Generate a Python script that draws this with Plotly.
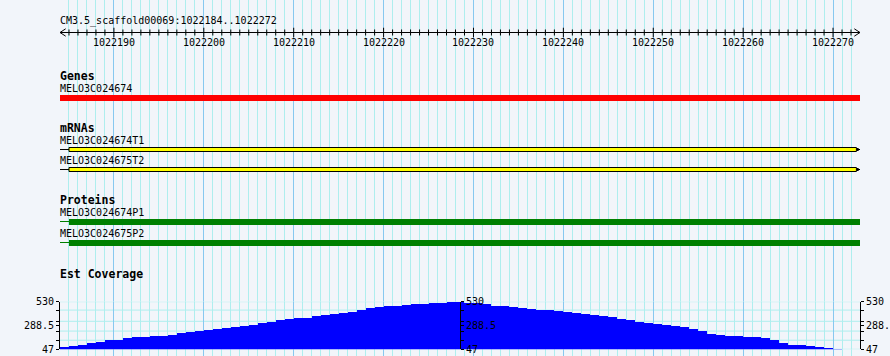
import plotly.graph_objects as go

# ---------------- data ----------------
scaffold = "CM3.5_scaffold00069"
view_start = 1022184
view_end = 1022273          # right edge of the last base shown (1022272)
ruler_ticks = [1022190, 1022200, 1022210, 1022220, 1022230,
               1022240, 1022250, 1022260, 1022270]
ruler_labels = [str(t) for t in ruler_ticks]

gene_names = ["MELO3C024674"]
gene_starts = [1022150]
gene_ends = [1022300]

mrna_names = ["MELO3C024674T1", "MELO3C024675T2"]
mrna_starts = [1022150, 1022150]
mrna_exon_starts = [1022185, 1022185]
mrna_exon_ends = [1022272.6, 1022272.6]
mrna_ends = [1022300, 1022300]

protein_names = ["MELO3C024674P1", "MELO3C024675P2"]
protein_starts = [1022150, 1022150]
protein_cds_starts = [1022185, 1022185]
protein_cds_ends = [1022300, 1022300]

cov_start = 1022184
cov_values = [74, 83, 93, 110, 120, 143, 143, 160, 170, 170,
              180, 189, 199, 213, 223, 233, 249, 259, 269, 276,
              289, 299, 312, 329, 348, 358, 366, 370, 390, 400,
              410, 423, 433, 446, 468, 478, 490, 490, 498, 505,
              514, 520, 522, 530, 530, 520, 518, 505, 494, 485,
              478, 468, 460, 452, 444, 436, 426, 417, 408, 395,
              385, 373, 353, 343, 331, 321, 311, 301, 291, 281,
              256, 233, 203, 195, 190, 185, 171, 170, 160, 140,
              110, 90, 90, 80, 70, 60, 54]
cov_min, cov_mid, cov_max = 47, 288.5, 530
cov_grid = [530, 445, 331, 232, 139, 47]
cov_minor = [445, 331, 232, 139]

# ---------------- style / layout ----------------
W, H = 890, 356
BG = "#F2F5FA"
MINOR_GRID = "#AEEEEE"
MAJOR_GRID = "#87C8F0"
MONO = "DejaVu Sans Mono"
L_PX, R_PX = 60, 860
px_per_base = (R_PX - L_PX) / (view_end - view_start)


def clamp(v):
    return max(view_start, min(view_end, v))


fig = go.Figure()
shapes = []
annotations = []


def label(text, y, size=10, bold=False):
    annotations.append(dict(
        x=view_start, y=y, xref="x", yref="y", xanchor="left", yanchor="middle",
        text=f"<b>{text}</b>" if bold else text, showarrow=False, xshift=-2,
        font=dict(family=MONO, size=size, color="black")))


# ruler
RULER_Y = 32.5
fig.add_trace(go.Scatter(x=[view_start, view_end], y=[RULER_Y, RULER_Y], mode="lines",
                         line=dict(color="black", width=1), hoverinfo="skip", showlegend=False))
minor_pos = [b for b in range(view_start + 1, view_end) if b not in ruler_ticks]
fig.add_trace(go.Scatter(x=minor_pos, y=[RULER_Y] * len(minor_pos), mode="markers",
                         marker=dict(symbol="line-ns", size=4.3, line=dict(color="black", width=1)),
                         hoverinfo="skip", showlegend=False))
fig.add_trace(go.Scatter(x=ruler_ticks, y=[RULER_Y] * len(ruler_ticks), mode="markers",
                         marker=dict(symbol="line-ns", size=6.8, line=dict(color="black", width=1)),
                         hoverinfo="skip", showlegend=False))
aw = 5.7 / px_per_base
for xe, d in ((view_start, 1), (view_end, -1)):
    fig.add_trace(go.Scatter(x=[xe + d * aw, xe, xe + d * aw], y=[RULER_Y - 3.7, RULER_Y, RULER_Y + 3.7],
                             mode="lines", line=dict(color="black", width=1),
                             hoverinfo="skip", showlegend=False))
for t, s in zip(ruler_ticks, ruler_labels):
    annotations.append(dict(x=t, y=42.3, xref="x", yref="y", text=s, showarrow=False,
                            xanchor="center", yanchor="middle",
                            font=dict(family=MONO, size=10, color="black")))
label(f"{scaffold}:{view_start}..{view_end - 1}", 21)

# genes
label("Genes", 76, size=11.5, bold=True)
for i, (n, s, e) in enumerate(zip(gene_names, gene_starts, gene_ends)):
    label(n, 88)
    shapes.append(dict(type="rect", xref="x", yref="y", x0=clamp(s), x1=clamp(e), y0=95, y1=101,
                       fillcolor="#FF0000", line=dict(width=0)))

# mRNAs
label("mRNAs", 128.3, size=11.5, bold=True)
mrna_rows = [(140.3, 147.5), (160.0, 167.5)]
for (ly, top), n, s, es, ee, e in zip(mrna_rows, mrna_names, mrna_starts,
                                      mrna_exon_starts, mrna_exon_ends, mrna_ends):
    label(n, ly)
    mid = top + 2
    shapes.append(dict(type="line", xref="x", yref="y", x0=clamp(s), x1=clamp(es), y0=mid, y1=mid,
                       line=dict(color="black", width=1)))
    shapes.append(dict(type="line", xref="x", yref="y", x0=clamp(ee), x1=clamp(e), y0=mid, y1=mid,
                       line=dict(color="black", width=1)))
    shapes.append(dict(type="rect", xref="x", yref="y", x0=clamp(ee), x1=clamp(ee + 0.25),
                       y0=top + 0.5, y1=top + 3.5, fillcolor="black", line=dict(width=0)))
    shapes.append(dict(type="rect", xref="x", yref="y", x0=clamp(es), x1=clamp(ee), y0=top, y1=top + 4,
                       fillcolor="#FFFF00", line=dict(color="black", width=1)))

# proteins
label("Proteins", 200, size=11.5, bold=True)
prot_rows = [(212.7, 219), (233.3, 240)]
for (ly, top), n, s, cs, ce in zip(prot_rows, protein_names, protein_starts,
                                   protein_cds_starts, protein_cds_ends):
    label(n, ly)
    shapes.append(dict(type="line", xref="x", yref="y", x0=clamp(s), x1=clamp(cs), y0=top + 2.5,
                       y1=top + 2.5, line=dict(color="#008000", width=1)))
    shapes.append(dict(type="rect", xref="x", yref="y", x0=clamp(cs), x1=clamp(ce), y0=top, y1=top + 6,
                       fillcolor="#008000", line=dict(width=0)))

# coverage
label("Est Coverage", 274, size=11.5, bold=True)
for g in cov_grid:
    shapes.append(dict(type="line", xref="x", yref="y2", x0=view_start, x1=view_end, y0=g, y1=g,
                       layer="below", line=dict(color=MINOR_GRID, width=1)))
cov_x = [cov_start + i + 0.5 for i in range(len(cov_values))]
fig.add_trace(go.Bar(x=cov_x, y=cov_values, width=1, yaxis="y2",
                     marker=dict(color="#0000FF", line=dict(width=0)),
                     hoverinfo="skip", showlegend=False))
for ax in ("y3", "y4"):
    fig.add_trace(go.Scatter(x=[None], y=[None], yaxis=ax, mode="markers",
                             hoverinfo="skip", showlegend=False))

y_top_px, y_bot_px = 301.7, 349.3
dom = [1 - y_bot_px / H, 1 - y_top_px / H]
cov_axis = dict(range=[cov_min, cov_max], tickmode="array", automargin=False,
                tickvals=[cov_min, cov_mid, cov_max], ticktext=["47", "288.5", "530"],
                ticks="outside", ticklen=3, tickcolor="black", tickwidth=1,
                showline=True, linecolor="black", linewidth=1, showgrid=False, zeroline=False,
                tickfont=dict(family=MONO, size=10, color="black"),
                minor=dict(tickmode="array", tickvals=cov_minor, ticks="outside", ticklen=3,
                           tickcolor="black", showgrid=False))

fig.update_layout(
    width=W, height=H, autosize=False,
    margin=dict(l=0, r=0, t=0, b=0, pad=0, autoexpand=False),
    paper_bgcolor=BG, plot_bgcolor=BG, bargap=0, showlegend=False,
    xaxis=dict(domain=[L_PX / W, R_PX / W], range=[view_start, view_end], automargin=False,
               showticklabels=False, ticks="", zeroline=False, showline=False,
               showgrid=True, gridcolor=MAJOR_GRID, gridwidth=1, tick0=1022190, dtick=10,
               minor=dict(showgrid=True, gridcolor=MINOR_GRID, gridwidth=1, tick0=view_start, dtick=1)),
    yaxis=dict(domain=[0, 1], range=[H, 0], visible=False, showgrid=False, zeroline=False,
               automargin=False),
    yaxis2=dict(domain=dom, anchor="x", side="left", **cov_axis),
    yaxis3=dict(overlaying="y2", anchor="free", position=460 / W, side="right", **cov_axis),
    yaxis4=dict(overlaying="y2", anchor="free", position=R_PX / W, side="right", **cov_axis),
    shapes=shapes, annotations=annotations,
)

fig.write_html(
    "out.html",
    config={"displayModeBar": False, "responsive": False},
    post_script="document.body.style.margin='0';document.body.style.padding='0';"
                "document.body.style.overflow='hidden';document.body.style.background='" + BG + "';",
)
